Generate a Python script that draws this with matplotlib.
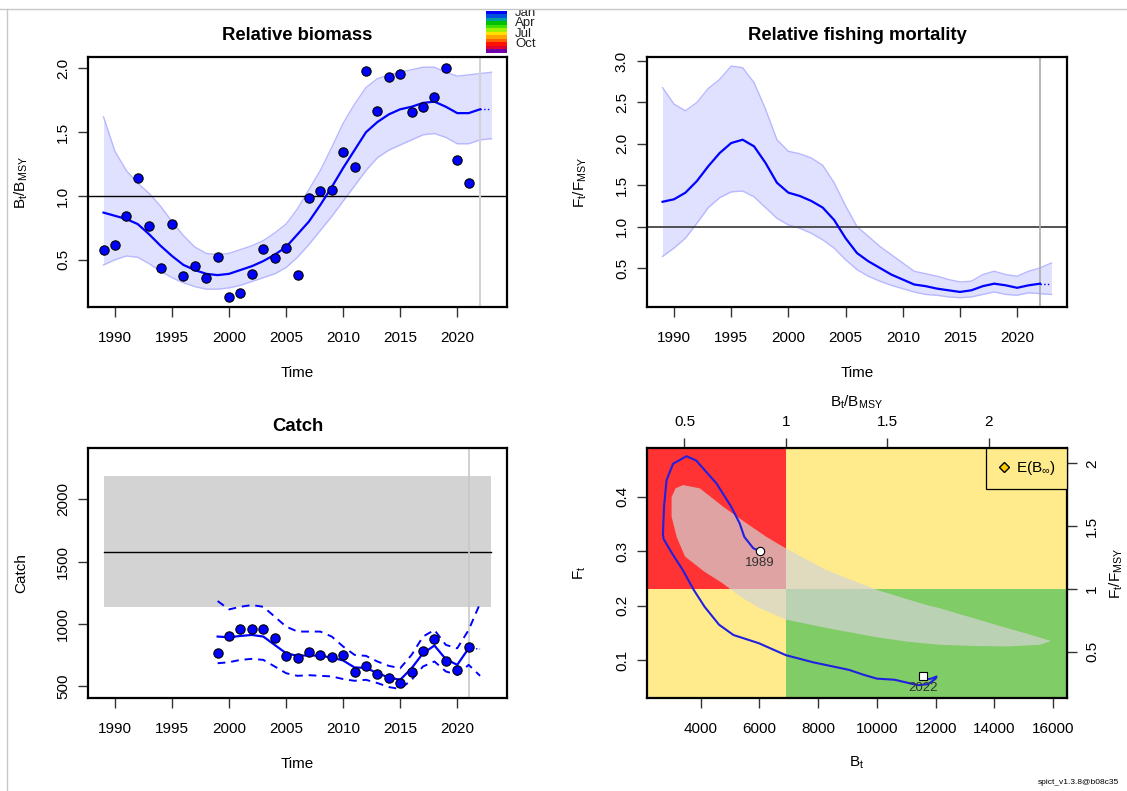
import numpy as np
import matplotlib
matplotlib.use("Agg")
import matplotlib.pyplot as plt
from matplotlib.patches import Rectangle, Polygon
from matplotlib.lines import Line2D

plt.rcParams['font.family'] = ['Liberation Sans', 'DejaVu Sans']
plt.rcParams['font.size'] = 11
plt.rcParams['mathtext.default'] = 'regular'

# ---- data ----
years = list(range(1989, 2022))
index_bb = [0.575, 0.617, 0.842, 1.138, 0.762, 0.432, 0.778, 0.370, 0.453, 0.357,
            0.523, 0.209, 0.238, 0.391, 0.588, 0.513, 0.591, 0.380, 0.988, 1.042,
            1.047, 1.346, 1.227, 1.979, 1.663, 1.930, 1.956, 1.657, 1.696, 1.779,
            2.003, 1.286, 1.102]

est_years = list(range(1989, 2023))
bb_est = [0.87, 0.845, 0.82, 0.78, 0.70, 0.61, 0.53, 0.46, 0.42, 0.39,
          0.38, 0.39, 0.42, 0.45, 0.49, 0.54, 0.60, 0.70, 0.80, 0.93,
          1.07, 1.22, 1.36, 1.50, 1.58, 1.64, 1.68, 1.70, 1.73, 1.74,
          1.70, 1.65, 1.65, 1.68]
ci_years = list(range(1989, 2024))
bb_hi = [1.62, 1.35, 1.20, 1.10, 1.02, 0.92, 0.80, 0.69, 0.60, 0.55,
         0.54, 0.55, 0.58, 0.61, 0.65, 0.71, 0.78, 0.90, 1.05, 1.20,
         1.38, 1.57, 1.72, 1.85, 1.92, 1.95, 1.97, 1.99, 2.01, 2.01,
         1.97, 1.94, 1.95, 1.96, 1.97]
bb_lo = [0.46, 0.50, 0.53, 0.52, 0.47, 0.41, 0.36, 0.32, 0.29, 0.27,
         0.27, 0.28, 0.30, 0.33, 0.36, 0.39, 0.44, 0.52, 0.62, 0.73,
         0.84, 0.96, 1.08, 1.20, 1.30, 1.36, 1.40, 1.44, 1.48, 1.49,
         1.46, 1.41, 1.41, 1.44, 1.45]

ff_est = [1.30, 1.33, 1.41, 1.55, 1.73, 1.89, 2.01, 2.05, 1.97, 1.77,
          1.53, 1.41, 1.37, 1.31, 1.23, 1.08, 0.86, 0.68, 0.58, 0.50,
          0.42, 0.36, 0.30, 0.28, 0.25, 0.23, 0.21, 0.23, 0.28, 0.31,
          0.29, 0.26, 0.29, 0.31]
ff_hi = [2.68, 2.48, 2.40, 2.50, 2.67, 2.78, 2.94, 2.92, 2.74, 2.42,
         2.05, 1.91, 1.88, 1.83, 1.74, 1.53, 1.25, 1.00, 0.88, 0.76,
         0.66, 0.56, 0.46, 0.43, 0.40, 0.36, 0.33, 0.34, 0.42, 0.46,
         0.42, 0.40, 0.46, 0.50, 0.56]
ff_lo = [0.64, 0.74, 0.86, 1.04, 1.23, 1.35, 1.42, 1.43, 1.36, 1.23,
         1.10, 1.02, 0.98, 0.92, 0.84, 0.74, 0.60, 0.48, 0.40, 0.34,
         0.29, 0.25, 0.21, 0.18, 0.17, 0.15, 0.14, 0.15, 0.18, 0.21,
         0.18, 0.17, 0.20, 0.19, 0.18]

catch_years = list(range(1999, 2022))
catch_obs = [769, 908, 964, 964, 964, 886, 748, 729, 780, 750, 732, 750,
             612, 660, 602, 569, 527, 612, 782, 881, 702, 633, 814]
catch_pred = [900, 894, 905, 913, 900, 833, 766, 745, 750, 745, 732, 708,
              652, 649, 606, 572, 553, 646, 766, 828, 718, 673, 806]
pred_years = list(range(1999, 2023))
catch_hi = [1185, 1118, 1139, 1153, 1139, 1060, 980, 940, 940, 940, 900, 820,
            753, 745, 700, 665, 646, 753, 900, 953, 833, 806, 953, 1166]
catch_lo = [686, 694, 713, 721, 713, 660, 606, 585, 590, 585, 580, 559,
            545, 553, 527, 495, 479, 553, 660, 700, 620, 593, 673, 585]
catch_fore = [806, 800]
msy, msy_lo, msy_hi = 1579, 1139, 2187

Bmsy, Fmsy = 6905, 0.2303
traj_b = [6018, 5797, 5489, 5329, 5046, 4542, 3852, 3520, 3065, 2843, 2757, 2720,
          2745, 3028, 3397, 3766, 4135, 4628, 5120, 5982, 6905, 7828, 9058, 9551,
          10000, 10600, 11000, 11400, 11750, 12000, 12030, 11850, 11600, 11580]
traj_f = [0.300, 0.305, 0.326, 0.351, 0.381, 0.424, 0.466, 0.474, 0.460, 0.430, 0.381, 0.330,
          0.322, 0.296, 0.265, 0.229, 0.198, 0.165, 0.146, 0.131, 0.109, 0.096, 0.082, 0.073,
          0.066, 0.064, 0.059, 0.054, 0.056, 0.066, 0.070, 0.066, 0.064, 0.070]
ci_b = [3409, 3975, 4775, 5563, 6240, 6929, 8283, 9982, 11692, 12148, 13280, 14412,
        15323, 15926, 15545, 14412, 13280, 12148, 11000, 9982, 8283, 6929, 5982,
        5366, 4750, 4135, 3471, 3188, 3015, 3015, 3150]
ci_f = [0.421, 0.415, 0.381, 0.351, 0.326, 0.304, 0.265, 0.229, 0.201, 0.195, 0.177, 0.159,
        0.145, 0.135, 0.128, 0.125, 0.126, 0.128, 0.134, 0.142, 0.159, 0.174, 0.196,
        0.216, 0.241, 0.262, 0.290, 0.326, 0.363, 0.399, 0.415]

month_cols = ['#0000FF', '#0050E0', '#00A0A0', '#00C000', '#40E000', '#A0F000',
              '#FFE000', '#FFA500', '#FF6000', '#FF1000', '#E00030', '#7000A8']
month_labels = ['Jan', 'Apr', 'Jul', 'Oct']

W, H = 1127, 791
fig = plt.figure(figsize=(W / 100, H / 100), dpi=100)


def px_axes(x0, y0, x1, y1):
    return fig.add_axes([x0 / W, 1 - y1 / H, (x1 - x0) / W, (y1 - y0) / H])


def r_style(ax):
    for s in ax.spines.values():
        s.set_linewidth(1.6)
    ax.tick_params(direction='out', length=7, width=1, color='#333333',
                   labelsize=11, pad=10)
    ax.tick_params(axis='y', labelrotation=90, pad=6)
    for lab in ax.get_yticklabels():
        lab.set_va('center')


def r_labels(ax, xlabel, ylabel, hpx, wpx):
    ax.set_xlabel(xlabel, fontsize=11)
    ax.set_ylabel(ylabel, fontsize=11)
    ax.xaxis.label.set_va('center')
    ax.yaxis.label.set_va('center')
    ax.xaxis.set_label_coords(0.5, -66 / hpx)
    ax.yaxis.set_label_coords(-67 / wpx, 0.5)


xlim = (1987.64, 2024.36)
band_c = (0.88, 0.88, 1.0)
edge_c = (0.72, 0.72, 1.0)
title_kw = dict(fontsize=13.3, fontweight='bold', pad=12)

# ---- Relative biomass ----
ax1 = px_axes(88, 57, 507, 307)
ax1.fill_between(ci_years, bb_lo, bb_hi, color=band_c, lw=0)
ax1.plot(ci_years, bb_hi, color=edge_c, lw=1)
ax1.plot(ci_years, bb_lo, color=edge_c, lw=1)
ax1.axhline(1.0, color='black', lw=1)
ax1.axvline(2022, color='#D3D3D3', lw=1.5)
ax1.plot(est_years, bb_est, color='#0000FF', lw=1.6)
ax1.plot([est_years[-1], 2023], [bb_est[-1], bb_est[-1]], color='#0000FF', lw=1, ls=':')
ax1.scatter(years, index_bb, s=45, c=month_cols[0], edgecolors='black', linewidths=0.8, zorder=5)
ax1.set_xlim(*xlim)
ax1.set_ylim(0.13, 2.09)
ax1.set_xticks(range(1990, 2021, 5))
ax1.set_yticks([0.5, 1.0, 1.5, 2.0])
ax1.set_yticklabels(['0.5', '1.0', '1.5', '2.0'])
r_style(ax1)
r_labels(ax1, 'Time', r'$B_t/B_{MSY}$', 250, 419)
ax1.set_title('Relative biomass', **title_kw)

# month colour key
axc = px_axes(486, 11, 507, 53)
axc.imshow(np.arange(12).reshape(-1, 1), aspect='auto',
           cmap=matplotlib.colors.ListedColormap(month_cols), interpolation='nearest')
axc.set_xticks([])
axc.set_yticks([])
for s in axc.spines.values():
    s.set_visible(False)
for i, lab in enumerate(month_labels):
    fig.text(515 / W, 1 - (13 + i * 10.3) / H, lab, fontsize=9.5, va='center', ha='left',
             color='#222222')

# ---- Relative fishing mortality ----
ax2 = px_axes(647, 57, 1067, 307)
ax2.fill_between(ci_years, ff_lo, ff_hi, color=band_c, lw=0)
ax2.plot(ci_years, ff_hi, color=edge_c, lw=1)
ax2.plot(ci_years, ff_lo, color=edge_c, lw=1)
ax2.axhline(1.0, color='#444444', lw=1.3)
ax2.axvline(2022, color='#AAAAAA', lw=1.2)
ax2.plot(est_years, ff_est, color='#0000FF', lw=1.6)
ax2.plot([est_years[-1], 2023], [ff_est[-1], ff_est[-1]], color='#0000FF', lw=1, ls=':')
ax2.set_xlim(*xlim)
ax2.set_ylim(0.028, 3.05)
ax2.set_xticks(range(1990, 2021, 5))
ax2.set_yticks([0.5, 1.0, 1.5, 2.0, 2.5, 3.0])
ax2.set_yticklabels(['0.5', '1.0', '1.5', '2.0', '2.5', '3.0'])
r_style(ax2)
r_labels(ax2, 'Time', r'$F_t/F_{MSY}$', 250, 420)
ax2.set_title('Relative fishing mortality', **title_kw)

# ---- Catch ----
ax3 = px_axes(88, 448, 507, 698)
ax3.add_patch(Rectangle((1989, msy_lo), 2023 - 1989, msy_hi - msy_lo,
                        facecolor='#D3D3D3', edgecolor='none'))
ax3.plot([1989, 2023], [msy, msy], color='black', lw=1)
ax3.axvline(2021, color='#C8C8C8', lw=1.2)
ax3.plot(pred_years, catch_hi, color='#0000FF', lw=1.4, ls=(0, (4, 3)))
ax3.plot(pred_years, catch_lo, color='#0000FF', lw=1.4, ls=(0, (4, 3)))
ax3.plot(catch_years, catch_pred, color='#0000FF', lw=1.6)
ax3.plot([2021, 2022], catch_fore, color='#0000FF', lw=1, ls=':')
ax3.scatter(catch_years, catch_obs, s=45, c='#0000FF', edgecolors='black', linewidths=0.8, zorder=5)
ax3.set_xlim(*xlim)
ax3.set_ylim(407, 2413)
ax3.set_xticks(range(1990, 2021, 5))
ax3.set_yticks([500, 1000, 1500, 2000])
r_style(ax3)
r_labels(ax3, 'Time', 'Catch', 250, 419)
ax3.set_title('Catch', **title_kw)

# ---- Kobe plot ----
ax4 = px_axes(647, 448, 1067, 698)
bx0, bx1 = 2178, 16468
fy0, fy1 = 0.0305, 0.489
red, yel, grn = '#FF3333', '#FFEA8C', '#80CC66'
ax4.add_patch(Rectangle((bx0, Fmsy), Bmsy - bx0, fy1 - Fmsy, color=red, lw=0))
ax4.add_patch(Rectangle((Bmsy, Fmsy), bx1 - Bmsy, fy1 - Fmsy, color=yel, lw=0))
ax4.add_patch(Rectangle((bx0, fy0), Bmsy - bx0, Fmsy - fy0, color=yel, lw=0))
ax4.add_patch(Rectangle((Bmsy, fy0), bx1 - Bmsy, Fmsy - fy0, color=grn, lw=0))
ax4.add_patch(Polygon(np.column_stack([ci_b, ci_f]), closed=True,
                      facecolor=(0.83, 0.83, 0.83), alpha=0.7, edgecolor='none'))
ax4.plot(traj_b, traj_f, color='#2020E0', lw=1.5)
ax4.plot(traj_b[0], traj_f[0], 'o', ms=6, mfc='white', mec='black', mew=0.8, zorder=5)
ax4.plot(traj_b[-1], traj_f[-1], 's', ms=5.5, mfc='white', mec='black', mew=0.8, zorder=5)
ax4.text(traj_b[0], traj_f[0] - 0.022, '1989', ha='center', va='center', fontsize=9.5, color='#333333')
ax4.text(traj_b[-1], traj_f[-1] - 0.021, '2022', ha='center', va='center', fontsize=9.5, color='#333333')
ax4.plot([], [], 'D', ms=5, mfc='#FFCC00', mec='black', mew=1, label=r'E(B$_\infty$)')
leg = ax4.legend(loc='upper right', borderaxespad=0, fancybox=False, framealpha=1,
                 facecolor=yel, edgecolor='black', fontsize=11, handlelength=0.8,
                 handletextpad=0.4, borderpad=0.75)
leg.get_frame().set_linewidth(0.9)
ax4.set_xlim(bx0, bx1)
ax4.set_ylim(fy0, fy1)
ax4.set_xticks(range(4000, 16001, 2000))
ax4.set_yticks([0.1, 0.2, 0.3, 0.4])
r_style(ax4)
ax4.set_xlabel(r'$B_t$', fontsize=11)
ax4.set_ylabel(r'$F_t$', fontsize=11)
ax4.xaxis.label.set_va('center')
ax4.yaxis.label.set_va('center')
ax4.xaxis.set_label_coords(0.5, -65 / 250)
ax4.yaxis.set_label_coords(-67 / 420, 0.5)

top = ax4.secondary_xaxis('top', functions=(lambda b: b / Bmsy, lambda r: r * Bmsy))
top.set_xticks([0.5, 1, 1.5, 2])
top.set_xticklabels(['0.5', '1', '1.5', '2'])
top.tick_params(direction='out', length=7, width=1, color='#333333', labelsize=11, pad=7)
top.set_xlabel(r'$B_t/B_{MSY}$', fontsize=11, labelpad=6)
right = ax4.secondary_yaxis('right', functions=(lambda f: f / Fmsy, lambda r: r * Fmsy))
right.set_yticks([0.5, 1, 1.5, 2])
right.set_yticklabels(['0.5', '1', '1.5', '2'])
right.tick_params(direction='out', length=7, width=1, color='#333333', labelsize=11,
                  pad=6, labelrotation=90)
for lab in right.get_yticklabels():
    lab.set_va('center')
right.set_ylabel(r'$F_t/F_{MSY}$', fontsize=11, labelpad=6)

fig.text(1119 / W, 1 - 783 / H, 'spict_v1.3.8@b08c35', fontsize=6, ha='right', va='center')

# device frame lines
fig.patches.append(Rectangle((0, 1 - 9 / H), 1, 9 / H, transform=fig.transFigure,
                             facecolor='white', edgecolor='none', zorder=10))
fig.lines.append(Line2D([0, 1], [1 - 9 / H, 1 - 9 / H], transform=fig.transFigure,
                        color='#C8C8C8', lw=1, zorder=11))
fig.lines.append(Line2D([7 / W, 7 / W], [0, 1 - 9 / H], transform=fig.transFigure,
                        color='#C8C8C8', lw=1, zorder=11))

fig.savefig('out.png', dpi=100)
